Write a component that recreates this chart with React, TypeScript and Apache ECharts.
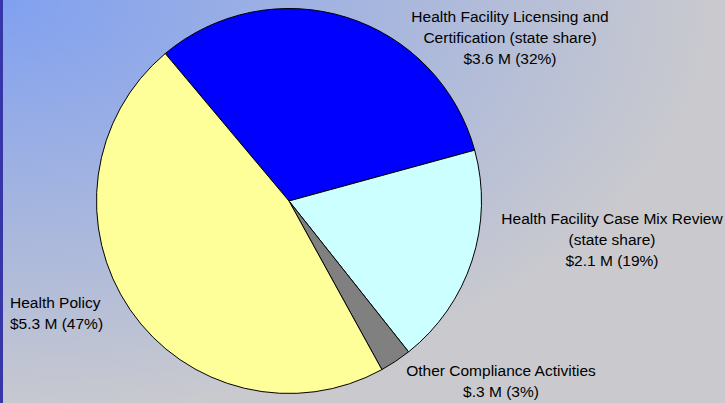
import React, { useEffect, useRef } from "react";
import * as echarts from "echarts";

const categories = [
  "Health Facility Licensing and\nCertification (state share)",
  "Health Facility Case Mix Review\n(state share)",
  "Other Compliance Activities",
  "Health Policy",
];
const valuesMillions = [3.6, 2.1, 0.3, 5.3];
const sliceColors = ["#0000ff", "#ccffff", "#808080", "#ffff99"];
// label block anchor: [x, y, align]
const labelAnchors: [number, number, string][] = [
  [510, 37, "center"],
  [612, 239, "center"],
  [501, 381, "center"],
  [10, 313, "left"],
];

function money(v: number): string {
  const s = v.toFixed(1);
  return "$" + (s.startsWith("0") ? s.slice(1) : s) + " M";
}

export default function App() {
  const ref = useRef<HTMLDivElement>(null);
  useEffect(() => {
    if (!ref.current) return;
    const chart = echarts.init(ref.current, undefined, { renderer: "svg" });
    chart.setOption({
      animation: false,
      series: [
        {
          type: "pie",
          center: [289, 201],
          radius: 192.5,
          startAngle: 130,
          clockwise: true,
          silent: true,
          avoidLabelOverlap: false,
          itemStyle: { borderColor: "#000", borderWidth: 1 },
          emphasis: { disabled: true },
          label: {
            show: true,
            position: "outside",
            overflow: "none",
            color: "#000",
            fontFamily: "Liberation Sans, Arial, sans-serif",
            fontSize: 15.5,
            lineHeight: 21,
            formatter: (p: any) =>
              `${p.name}\n${money(p.value)} (${Math.round(p.percent)}%)`,
          },
          labelLine: { show: false },
          labelLayout: (params: any) => {
            const a = labelAnchors[params.dataIndex];
            return { x: a[0], y: a[1], align: a[2], verticalAlign: "middle", hideOverlap: false };
          },
          data: categories.map((name, i) => ({
            name,
            value: valuesMillions[i],
            itemStyle: { color: sliceColors[i] },
          })),
        },
      ],
    });
    return () => chart.dispose();
  }, []);
  return (
    <div
      ref={ref}
      style={{
        position: "absolute",
        left: 0,
        top: 0,
        width: 725,
        height: 403,
        background:
          "linear-gradient(to right, #3636a8 0px, #3636a8 3px, transparent 3px), radial-gradient(ellipse 720px 420px at 0 0, #80a0f0 0%, #cacace 100%)",
      }}
    />
  );
}
